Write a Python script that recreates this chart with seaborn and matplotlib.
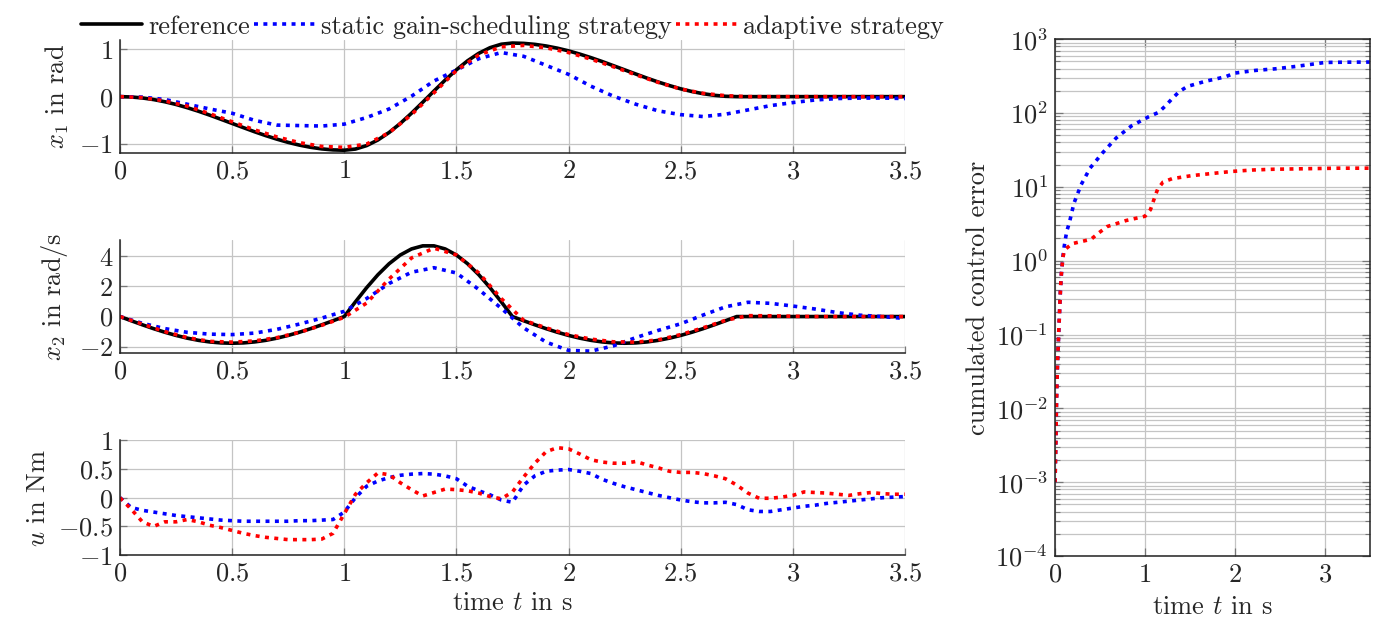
import numpy as np
import matplotlib
matplotlib.use('Agg')
import matplotlib.pyplot as plt
import seaborn as sns
from matplotlib.ticker import FuncFormatter, LogLocator, NullFormatter

# ---------------------------------------------------------
# data
# ---------------------------------------------------------
t_ref = np.round(np.arange(0, 3.5001, 0.05), 2)
x1_ref = [0, -0.007, -0.028, -0.062, -0.108, -0.165, -0.233, -0.308, -0.390, -0.477,
          -0.565, -0.653, -0.740, -0.822, -0.897, -0.965, -1.022, -1.068, -1.102, -1.123,
          -1.130, -1.105, -1.032, -0.914, -0.756, -0.565, -0.349, -0.118, 0.118, 0.349,
          0.565, 0.756, 0.914, 1.032, 1.105, 1.130, 1.123, 1.102, 1.068, 1.022,
          0.965, 0.897, 0.822, 0.740, 0.653, 0.565, 0.477, 0.390, 0.308, 0.233,
          0.165, 0.108, 0.062, 0.028, 0.007, 0,
          0, 0, 0, 0, 0, 0, 0, 0, 0, 0, 0, 0, 0, 0, 0]
x2_ref = [0, -0.278, -0.548, -0.806, -1.043, -1.255, -1.436, -1.582, -1.688, -1.753,
          -1.775, -1.753, -1.688, -1.582, -1.436, -1.255, -1.043, -0.806, -0.548, -0.278,
          0, 0.983, 1.924, 2.780, 3.515, 4.096, 4.499, 4.704, 4.704, 4.499,
          4.096, 3.515, 2.780, 1.924, 0.983, 0, -0.278, -0.548, -0.806, -1.043,
          -1.255, -1.436, -1.582, -1.688, -1.753, -1.775, -1.753, -1.688, -1.582, -1.436,
          -1.255, -1.043, -0.806, -0.548, -0.278, 0,
          0, 0, 0, 0, 0, 0, 0, 0, 0, 0, 0, 0, 0, 0, 0]

t_sim = np.round(np.arange(0, 3.5001, 0.1), 1)
x1_static = [0, -0.01, -0.06, -0.16, -0.26, -0.35, -0.5, -0.6, -0.61, -0.62,
             -0.58, -0.44, -0.26, 0.01, 0.33, 0.56, 0.8, 0.93, 0.85, 0.66,
             0.47, 0.22, 0.01, -0.16, -0.3, -0.38, -0.42, -0.37, -0.28, -0.19,
             -0.125, -0.07, -0.04, -0.03, -0.03, -0.04]
x1_adapt = [0, -0.02, -0.09, -0.2, -0.36, -0.53, -0.7, -0.85, -0.97, -1.05,
            -1.07, -1.0, -0.76, -0.38, 0.08, 0.55, 0.88, 1.05, 1.08, 1.03,
            0.93, 0.79, 0.63, 0.46, 0.3, 0.16, 0.07, 0.02, 0.0, 0.0,
            0, 0, 0, 0, 0, 0]
x2_static = [0, -0.45, -0.8, -1.05, -1.17, -1.2, -1.1, -0.85, -0.5, -0.1,
             0.35, 1.2, 2.2, 2.95, 3.25, 2.9, 1.8, 0.55, -0.75, -1.7,
             -2.25, -2.3, -1.95, -1.4, -0.92, -0.48, 0.1, 0.65, 0.95, 0.88,
             0.7, 0.5, 0.26, 0.09, 0.0, -0.13]
x2_adapt = [0, -0.5, -1.0, -1.4, -1.65, -1.7, -1.62, -1.4, -1.05, -0.58,
            -0.05, 0.9, 2.5, 3.9, 4.55, 4.1, 2.9, 1.2, -0.25, -0.75,
            -1.2, -1.5, -1.68, -1.7, -1.55, -1.2, -0.75, -0.25, 0.06, 0.05,
            0.02, 0, 0, 0, 0, 0]

t_u = t_ref
u_static = [0, -0.17, -0.22, -0.25, -0.28, -0.31, -0.33, -0.35, -0.37, -0.39,
            -0.40, -0.41, -0.41, -0.41, -0.41, -0.41, -0.40, -0.40, -0.39, -0.38,
            -0.25, 0.0, 0.2, 0.29, 0.35, 0.39, 0.41, 0.42, 0.41, 0.38,
            0.33, 0.2, 0.12, 0.05, -0.04, -0.08, 0.22, 0.38, 0.46, 0.48,
            0.49, 0.46, 0.42, 0.32, 0.25, 0.19, 0.14, 0.09, 0.04, 0.0,
            -0.04, -0.07, -0.09, -0.09, -0.08, -0.12, -0.21, -0.24, -0.24, -0.21,
            -0.18, -0.15, -0.13, -0.10, -0.08, -0.06, -0.04, -0.02, 0.0, 0.01, 0.02]
u_adapt = [0, -0.2, -0.42, -0.5, -0.42, -0.42, -0.38, -0.42, -0.48, -0.52,
           -0.57, -0.62, -0.66, -0.69, -0.71, -0.73, -0.73, -0.73, -0.72, -0.62,
           -0.28, 0.06, 0.26, 0.43, 0.4, 0.26, 0.14, 0.03, 0.09, 0.15,
           0.14, 0.12, 0.08, 0.02, -0.02, 0.1, 0.36, 0.6, 0.8, 0.87,
           0.85, 0.76, 0.66, 0.62, 0.6, 0.6, 0.63, 0.57, 0.52, 0.46,
           0.44, 0.44, 0.42, 0.38, 0.33, 0.22, 0.08, -0.01, -0.01, 0.01,
           0.04, 0.1, 0.09, 0.08, 0.06, 0.04, 0.07, 0.09, 0.07, 0.06, 0.06]

t_err_static = [0, 0.005, 0.01, 0.015, 0.02, 0.03, 0.04, 0.05, 0.06, 0.07, 0.08, 0.09,
                0.1, 0.11, 0.13, 0.16, 0.21, 0.29, 0.39, 0.53, 0.68, 0.85, 1.04, 1.15,
                1.23, 1.3, 1.38, 1.47, 1.67, 1.89, 2.0, 2.23, 2.45, 2.67, 2.89, 3.0,
                3.22, 3.5]
err_static = [0.001, 0.002, 0.004, 0.01, 0.02, 0.05, 0.1, 0.2, 0.4, 0.65, 0.9, 1.2,
              1.5, 1.8, 2.5, 3.3, 6, 10.7, 18, 29, 46, 67, 89, 102,
              126, 156, 195, 229, 269, 309, 348, 378, 397, 427, 464, 484,
              488, 490]
t_err_adapt = [0, 0.005, 0.01, 0.015, 0.02, 0.03, 0.04, 0.05, 0.06, 0.07, 0.08, 0.09,
               0.1, 0.12, 0.19, 0.4, 0.49, 0.58, 0.79, 1.0, 1.06, 1.1, 1.14, 1.2,
               1.3, 1.52, 1.75, 1.97, 2.19, 2.41, 2.78, 3.15, 3.5]
err_adapt = [0.001, 0.002, 0.004, 0.01, 0.02, 0.05, 0.1, 0.2, 0.4, 0.65, 0.9, 1.15,
             1.3, 1.45, 1.7, 1.95, 2.4, 2.9, 3.5, 4.0, 4.9, 6.8, 9.3, 11.6,
             12.9, 14.2, 15.2, 16.2, 16.9, 17.3, 17.6, 17.9, 17.9]

labels = ["reference", "static gain-scheduling strategy", "adaptive strategy"]

# ---------------------------------------------------------
# style
# ---------------------------------------------------------
sns.set_style("ticks")
plt.rcParams['font.family'] = ['cmr10', 'DejaVu Serif']
plt.rcParams['mathtext.fontset'] = 'cm'
plt.rcParams['axes.formatter.use_mathtext'] = True
plt.rcParams['axes.unicode_minus'] = False
FS = 19

GRID = "#c4c4c4"
DOT = (0, (1.1, 1.5))
LW = 2.6

def num_fmt(v, pos):
    return f"${v:g}$"

def log_fmt(v, pos):
    return f"$10^{{{int(round(np.log10(v)))}}}$"

fig = plt.figure(figsize=(13.95, 6.28), dpi=100)
ax1 = fig.add_axes([0.086, 0.757, 0.5627, 0.179])
ax2 = fig.add_axes([0.086, 0.438, 0.5627, 0.180])
ax3 = fig.add_axes([0.086, 0.116, 0.5627, 0.183])
ax4 = fig.add_axes([0.7563, 0.1146, 0.2258, 0.823])

def style_left(ax):
    ax.set_xlim(0, 3.5)
    ax.set_xticks([0, 0.5, 1, 1.5, 2, 2.5, 3, 3.5])
    ax.grid(True, color=GRID, lw=0.9)
    ax.set_axisbelow(True)
    for s in ["top", "right"]:
        ax.spines[s].set_visible(False)
    for s in ["left", "bottom"]:
        ax.spines[s].set_linewidth(1.1)
        ax.spines[s].set_color("#222222")
    ax.tick_params(direction="in", length=5, width=0.9, color="#777777",
                   labelsize=FS, pad=5)
    ax.xaxis.set_major_formatter(FuncFormatter(num_fmt))
    ax.yaxis.set_major_formatter(FuncFormatter(num_fmt))
    ax.set_xlabel("")

# x1
sns.lineplot(x=t_ref, y=x1_ref, ax=ax1, color="black", lw=LW, label=labels[0])
sns.lineplot(x=t_sim, y=x1_static, ax=ax1, color="blue", lw=LW, linestyle=DOT, label=labels[1])
sns.lineplot(x=t_sim, y=x1_adapt, ax=ax1, color="red", lw=LW, linestyle=DOT, label=labels[2])
style_left(ax1)
ax1.set_ylim(-1.18, 1.19)
ax1.set_yticks([-1, 0, 1])
ax1.set_ylabel("$x_1$ in rad", fontsize=FS, labelpad=6)
handles, lbls = ax1.get_legend_handles_labels()
ax1.legend(handles, lbls, loc="lower center", bbox_to_anchor=(0.5, 0.99), ncol=3,
           frameon=False, fontsize=FS, handlelength=2.3, handletextpad=0.25,
           columnspacing=0.15, borderaxespad=0.0, borderpad=0.1)

# x2
sns.lineplot(x=t_ref, y=x2_ref, ax=ax2, color="black", lw=LW, legend=False)
sns.lineplot(x=t_sim, y=x2_static, ax=ax2, color="blue", lw=LW, linestyle=DOT, legend=False)
sns.lineplot(x=t_sim, y=x2_adapt, ax=ax2, color="red", lw=LW, linestyle=DOT, legend=False)
style_left(ax2)
ax2.set_ylim(-2.42, 5.1)
ax2.set_yticks([-2, 0, 2, 4])
ax2.set_ylabel("$x_2$ in rad/s", fontsize=FS, labelpad=6)

# u
sns.lineplot(x=t_u, y=u_static, ax=ax3, color="blue", lw=LW, linestyle=DOT, legend=False)
sns.lineplot(x=t_u, y=u_adapt, ax=ax3, color="red", lw=LW, linestyle=DOT, legend=False)
style_left(ax3)
ax3.set_ylim(-1, 1)
ax3.set_yticks([-1, -0.5, 0, 0.5, 1])
ax3.set_ylabel("$u$ in Nm", fontsize=FS, labelpad=6)
ax3.set_xlabel("time $t$ in s", fontsize=FS, labelpad=4)

# cumulated error
sns.lineplot(x=t_err_static, y=err_static, ax=ax4, color="blue", lw=LW, linestyle=DOT, legend=False)
sns.lineplot(x=t_err_adapt, y=err_adapt, ax=ax4, color="red", lw=LW, linestyle=DOT, legend=False)
ax4.set_yscale("log")
ax4.set_xlim(0, 3.5)
ax4.set_ylim(1e-4, 1e3)
ax4.set_xticks([0, 1, 2, 3])
ax4.yaxis.set_major_locator(LogLocator(base=10, numticks=20))
ax4.yaxis.set_minor_locator(LogLocator(base=10, subs=np.arange(2, 10), numticks=100))
ax4.yaxis.set_minor_formatter(NullFormatter())
ax4.yaxis.set_major_formatter(FuncFormatter(log_fmt))
ax4.xaxis.set_major_formatter(FuncFormatter(num_fmt))
ax4.grid(True, which="major", color=GRID, lw=0.9)
ax4.grid(True, which="minor", axis="y", color=GRID, lw=0.9)
ax4.set_axisbelow(True)
for s in ax4.spines.values():
    s.set_linewidth(1.1)
    s.set_color("#222222")
ax4.tick_params(which="both", direction="in", color="#777777", labelsize=FS,
                right=True, top=True, pad=5)
ax4.tick_params(which="major", length=6, width=0.9)
ax4.tick_params(which="minor", length=3.5, width=0.8)
ax4.set_ylim(1e-4, 1e3)
ax4.set_xlabel("time $t$ in s", fontsize=FS, labelpad=6)
ax4.set_ylabel("cumulated control error", fontsize=FS, labelpad=4)

fig.savefig("out.png", dpi=100)
plt.close(fig)
